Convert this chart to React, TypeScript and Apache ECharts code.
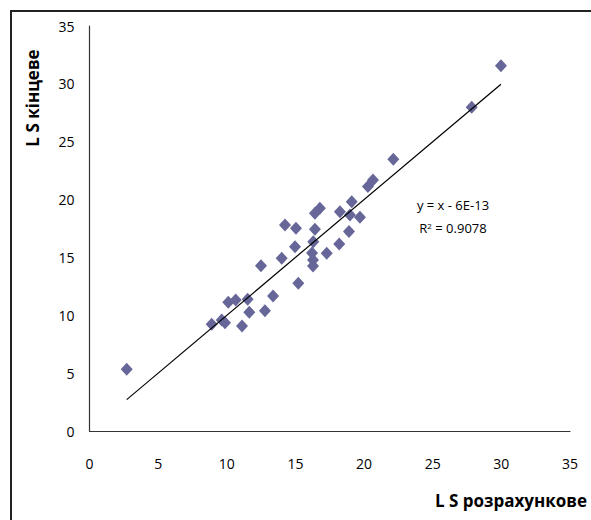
import React, { useEffect, useRef } from "react";
import * as echarts from "echarts";

const xValues = [2.71, 8.9, 9.63, 9.87, 10.11, 10.65, 11.52, 11.64, 11.11, 12.78, 13.37, 15.21, 12.49, 14.0, 14.24, 15.04, 14.97, 16.42, 16.42, 16.78, 16.3, 16.21, 16.28, 16.28, 17.28, 18.19, 18.9, 18.24, 18.97, 19.7, 19.1, 20.28, 20.65, 22.13, 27.84, 29.97];
const yValues = [5.33, 9.22, 9.59, 9.36, 11.12, 11.32, 11.38, 10.26, 9.08, 10.4, 11.67, 12.77, 14.29, 14.93, 17.8, 17.52, 15.93, 17.43, 18.82, 19.25, 16.36, 15.38, 14.78, 14.26, 15.36, 16.16, 17.23, 18.95, 18.67, 18.47, 19.82, 21.12, 21.69, 23.48, 27.98, 31.57];
const trendSlope = 1;
const trendIntercept = -6e-13;
const equationText = "y = x - 6E-13";
const r2Text = "0.9078";
const xTitle = "L S розрахункове";
const yTitle = "L S кінцеве";

const FONT = "'Open Sans', sans-serif";

export default function App() {
  const ref = useRef<HTMLDivElement>(null);
  useEffect(() => {
    document.body.style.margin = "0";
    if (!ref.current) return;
    const chart = echarts.init(ref.current, null, { renderer: "svg" });
    const pts = xValues.map((x, i) => [x, yValues[i]]);
    const xmin = Math.min(...xValues);
    const xmax = Math.max(...xValues);
    const trend = [
      [xmin, trendSlope * xmin + trendIntercept],
      [xmax, trendSlope * xmax + trendIntercept],
    ];
    chart.setOption({
      animation: false,
      backgroundColor: "transparent",
      grid: { left: 89.5, right: 21, top: 26, bottom: 89, containLabel: false },
      xAxis: {
        type: "value",
        min: 0,
        max: 35,
        interval: 5,
        axisLine: { show: true, onZero: false, lineStyle: { color: "#333", width: 1.2 } },
        axisTick: { show: false },
        splitLine: { show: false },
        axisLabel: { fontFamily: FONT, fontSize: 14, color: "#000", margin: 25 },
      },
      yAxis: {
        type: "value",
        min: 0,
        max: 35,
        interval: 5,
        axisLine: { show: true, onZero: false, lineStyle: { color: "#333", width: 1.2 } },
        axisTick: { show: false },
        splitLine: { show: false },
        axisLabel: { fontFamily: FONT, fontSize: 14, color: "#000", margin: 15 },
      },
      series: [
        {
          type: "line",
          data: trend,
          showSymbol: false,
          symbol: "none",
          lineStyle: { color: "#000", width: 1.2 },
          z: 3,
        },
        {
          type: "scatter",
          data: pts,
          symbol: "diamond",
          symbolSize: [12, 13],
          itemStyle: { color: "#666699", opacity: 1 },
          z: 2,
        },
      ],
      graphic: [
        {
          type: "text",
          x: 32,
          y: 98,
          rotation: Math.PI / 2,
          style: {
            text: yTitle,
            font: `bold 17px ${FONT}`,
            fill: "#000",
            align: "center",
            verticalAlign: "middle",
          },
        },
        {
          type: "text",
          x: 587,
          y: 500,
          style: {
            text: xTitle,
            font: `bold 17px ${FONT}`,
            fill: "#000",
            align: "right",
            verticalAlign: "middle",
          },
        },
        {
          type: "text",
          x: 453,
          y: 205,
          style: {
            text: equationText,
            font: `13px ${FONT}`,
            fill: "#000",
            align: "center",
            verticalAlign: "middle",
          },
        },
        {
          type: "text",
          x: 453,
          y: 228,
          style: {
            text: "{a|R}{s|2}{a| = " + r2Text + "}",
            align: "center",
            verticalAlign: "middle",
            rich: {
              a: { fontFamily: FONT, fontSize: 13, color: "#000" },
              s: { fontFamily: FONT, fontSize: 8, color: "#000", verticalAlign: "top", padding: [0, 0, 6, 0] },
            },
          },
        },
      ],
    });
    return () => chart.dispose();
  }, []);
  return (
    <div style={{ position: "absolute", left: 0, top: 0, width: 591, height: 520, overflow: "hidden", background: "#fff" }}>
      <div ref={ref} style={{ position: "absolute", left: 0, top: 0, width: 591, height: 520 }} />
      <div
        style={{
          position: "absolute",
          left: 10,
          top: 10,
          width: 700,
          height: 700,
          borderLeft: "2px solid #222",
          borderTop: "2px solid #222",
          pointerEvents: "none",
          zIndex: 10,
        }}
      />
    </div>
  );
}
